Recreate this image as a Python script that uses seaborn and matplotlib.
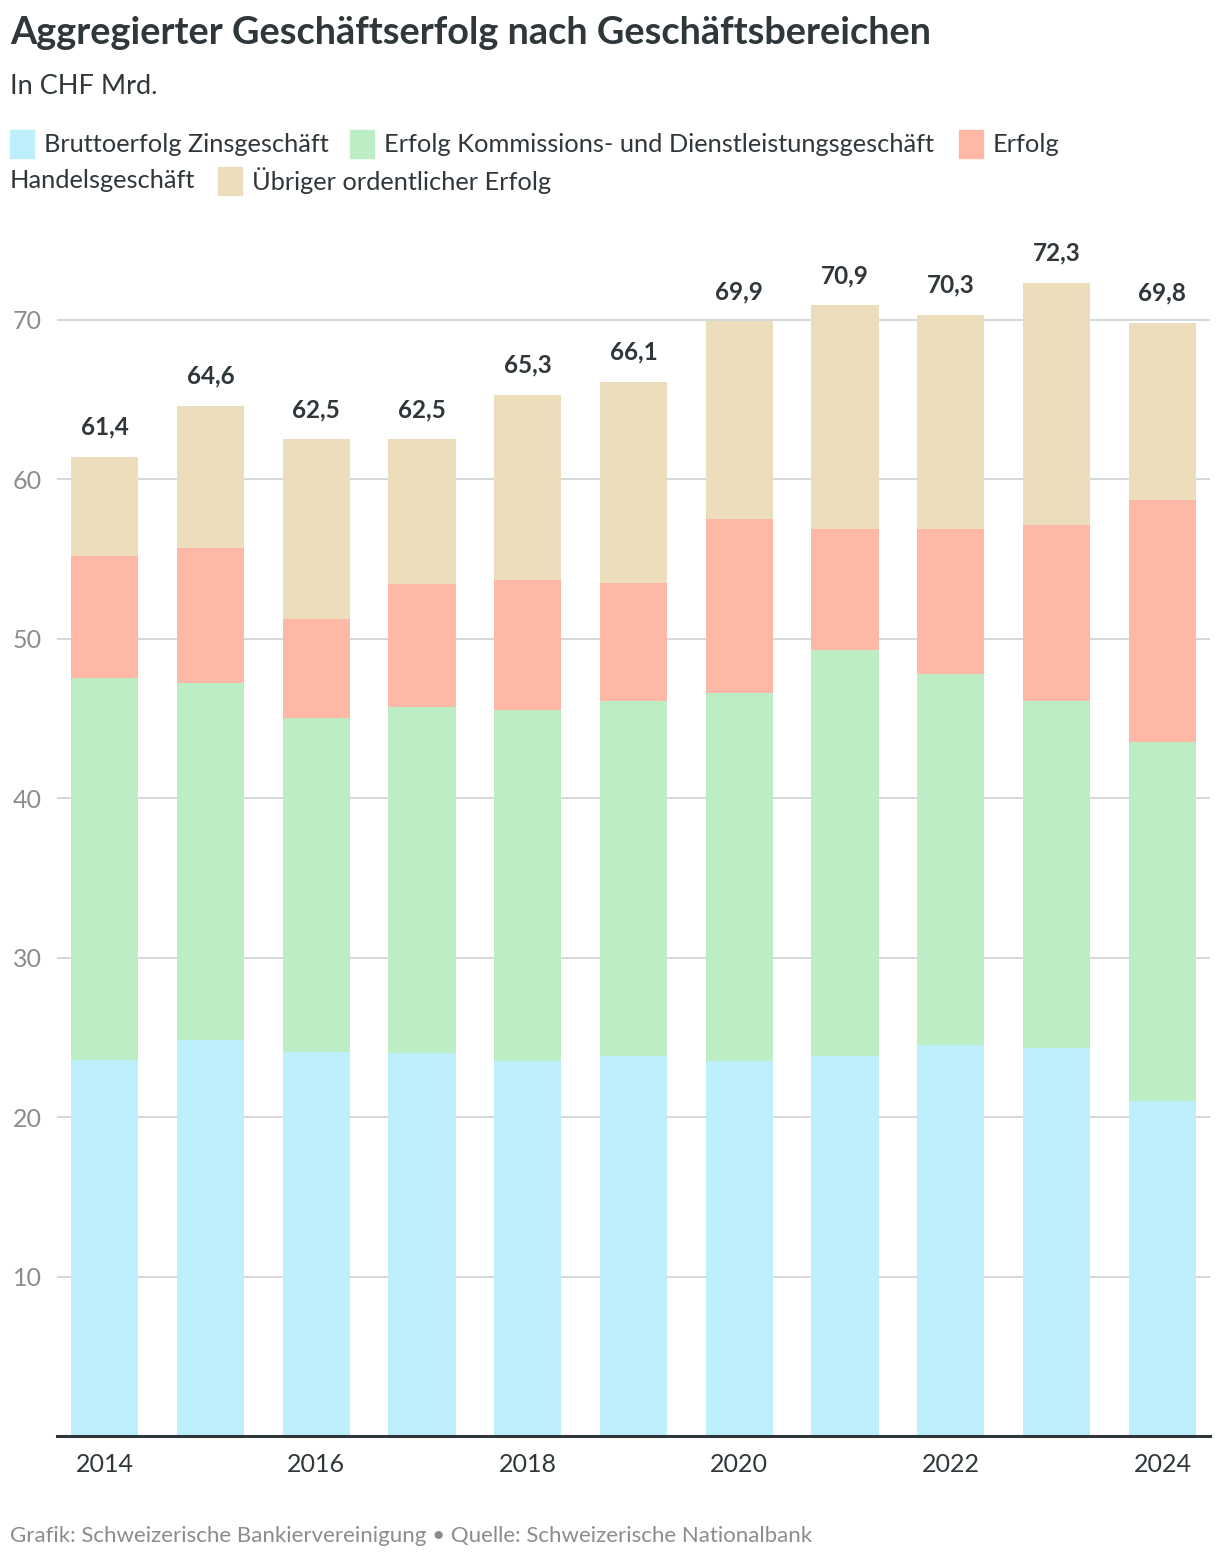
import numpy as np
import pandas as pd
import matplotlib
matplotlib.use("Agg")
import matplotlib.pyplot as plt
from matplotlib.patches import Rectangle
import seaborn as sns

# ── Data ───────────────────────────────────────────────────────────────────────
years = [2014, 2015, 2016, 2017, 2018, 2019, 2020, 2021, 2022, 2023, 2024]
zins = [23.6, 24.8, 24.1, 24.0, 23.5, 23.8, 23.5, 23.8, 24.5, 24.3, 21.0]
kommission = [23.9, 22.4, 20.9, 21.7, 22.0, 22.3, 23.1, 25.5, 23.3, 21.8, 22.5]
handel = [7.7, 8.5, 6.2, 7.7, 8.2, 7.4, 10.9, 7.6, 9.1, 11.0, 15.2]
uebriger = [6.2, 8.9, 11.3, 9.1, 11.6, 12.6, 12.4, 14.0, 13.4, 15.2, 11.1]
totals = ["61,4", "64,6", "62,5", "62,5", "65,3", "66,1", "69,9", "70,9", "70,3", "72,3", "69,8"]

series_names = ["Bruttoerfolg Zinsgeschäft",
                "Erfolg Kommissions- und Dienstleistungsgeschäft",
                "Erfolg Handelsgeschäft",
                "Übriger ordentlicher Erfolg"]
colors = ["#bdeffc", "#bcedc4", "#ffb7a6", "#ecddbc"]

DARK = "#30373b"
GREY = "#8c8c8c"

df = pd.DataFrame({"year": [str(y) for y in years],
                   "zins": zins, "kommission": kommission,
                   "handel": handel, "uebriger": uebriger})
df["c1"] = df["zins"]
df["c2"] = df["c1"] + df["kommission"]
df["c3"] = df["c2"] + df["handel"]
df["c4"] = df["c3"] + df["uebriger"]

# ── Figure ─────────────────────────────────────────────────────────────────────
sns.set_style("white")
plt.rcParams["font.family"] = ["Lato", "DejaVu Sans"]

fig = plt.figure(figsize=(12.2, 15.64), dpi=100)
ax = fig.add_axes([57 / 1220, 1 - 1436 / 1564, (1210 - 57) / 1220, 0.775])

# stacked by overlaying cumulative sums, tallest first
for col, c in zip(["c4", "c3", "c2", "c1"], colors[::-1]):
    sns.barplot(data=df, x="year", y=col, color=c, width=0.635,
                saturation=1, ax=ax, zorder=3, linewidth=0)

for i, lab in enumerate(totals):
    ax.annotate(lab, (i, df["c4"][i]), xytext=(0, 13), textcoords="offset points",
                ha="center", va="bottom", fontsize=17.5, fontweight="bold",
                color=DARK)

ax.set_xlim(-0.45, 10.45)
ax.set_ylim(0, 76)
ax.set_yticks([10, 20, 30, 40, 50, 60, 70])
ax.yaxis.grid(True, color="#d5d8dc", linewidth=1.4, zorder=0)
ax.set_axisbelow(True)
ax.set_xticks(range(0, 11, 2))
ax.set_xticklabels([str(y) for y in years[::2]])
ax.tick_params(axis="y", length=0, pad=11, labelsize=18, labelcolor=GREY)
ax.tick_params(axis="x", length=0, pad=12, labelsize=18, labelcolor=DARK)
for lbl in ax.get_yticklabels():
    lbl.set_horizontalalignment("right")
ax.set_xlabel("")
ax.set_ylabel("")
for s in ["top", "right", "left"]:
    ax.spines[s].set_visible(False)
ax.spines["bottom"].set_color(DARK)
ax.spines["bottom"].set_linewidth(2.2)
ax.spines["bottom"].set_zorder(5)

# ── Titles ─────────────────────────────────────────────────────────────────────
W, H = 1220, 1564
fig.text(10 / W, 1 - 33 / H, "Aggregierter Geschäftserfolg nach Geschäftsbereichen",
         fontsize=27.3, fontweight="bold", color=DARK, va="center", ha="left")
fig.text(10 / W, 1 - 87 / H, "In CHF Mrd.", fontsize=19.5, color=DARK,
         va="center", ha="left")

# ── Legend (wrapped manually, as in the original) ──────────────────────────────
def swatch(x, y, c):
    fig.patches.append(Rectangle((x / W, 1 - (y + 14) / H), 24 / W, 28 / H,
                                 color=c, transform=fig.transFigure))

def ltext(x, y, s):
    fig.text(x / W, 1 - y / H, s, fontsize=18.3, color=DARK, va="center", ha="left")

swatch(10, 144, colors[0]); ltext(44, 144, series_names[0])
swatch(350, 144, colors[1]); ltext(384, 144, series_names[1])
swatch(959, 144, colors[2]); ltext(993, 144, "Erfolg")
ltext(10, 181, "Handelsgeschäft")
swatch(218, 181, colors[3]); ltext(252, 181, series_names[3])

fig.text(10 / W, 1 - 1536 / H,
         "Grafik: Schweizerische Bankiervereinigung • Quelle: Schweizerische Nationalbank",
         fontsize=16, color=GREY, va="center", ha="left")

fig.savefig("out.png", dpi=100)
